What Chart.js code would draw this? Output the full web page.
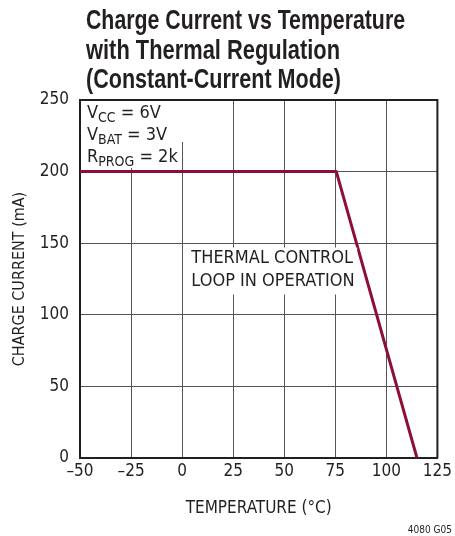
<!DOCTYPE html>
<html>
<head>
<meta charset="utf-8">
<script src="https://cdn.jsdelivr.net/npm/chart.js@4/dist/chart.umd.min.js"></script>
<style>
  html, body { margin: 0; padding: 0; background: #fff; }
  #wrap { width: 455px; height: 536px; position: relative; }
</style>
</head>
<body>
<div id="wrap"><canvas id="c" width="455" height="536"></canvas></div>
<script>
// ---- data ----
const temperatures = [-50, 75.5, 115];        // °C
const chargeCurrent = [200, 200, 0];          // mA
const xTicks = [-50, -25, 0, 25, 50, 75, 100, 125];
const yTicks = [0, 50, 100, 150, 200, 250];
const titleLines = ['Charge Current vs Temperature', 'with Thermal Regulation', '(Constant-Current Mode)'];
const xTitle = 'TEMPERATURE (°C)';
const yTitle = 'CHARGE CURRENT (mA)';
const condLines = [['V', 'CC', ' = 6V'], ['V', 'BAT', ' = 3V'], ['R', 'PROG', ' = 2k']];
const noteLines = ['THERMAL CONTROL', 'LOOP IN OPERATION'];
const footnote = '4080 G05';

const FAM = "'DejaVu Sans Condensed', 'Liberation Sans', sans-serif";
const TFAM = "'Liberation Sans', Arial, sans-serif";
Chart.defaults.font.family = FAM;
Chart.defaults.color = '#231f20';

const textPlugin = {
  id: 'texts',
  afterDatasetsDraw(chart) {
    const ctx = chart.ctx;
    const xs = chart.scales.x, ys = chart.scales.y;
    ctx.save();
    // white backgrounds behind annotations
    ctx.fillStyle = '#fff';
    const L = chart.chartArea.left;
    ctx.fillRect(L + 1.5, chart.chartArea.top + 1, 104, 41);
    ctx.fillRect(L + 1.5, chart.chartArea.top + 42, 97, 26);
    const nx = xs.getPixelForValue(1.5);
    ctx.fillRect(nx, ys.getPixelForValue(147), 172, 47);
    // conditions text
    ctx.fillStyle = '#231f20';
    ctx.textBaseline = 'alphabetic';
    ctx.textAlign = 'left';
    const bases = [18, 40, 62];
    condLines.forEach((parts, i) => {
      let x = L + 7;
      const y = chart.chartArea.top + bases[i];
      ctx.font = '18px ' + FAM;
      ctx.fillText(parts[0], x, y);
      x += ctx.measureText(parts[0]).width;
      ctx.font = '14px ' + FAM;
      ctx.fillText(parts[1], x, y + 4);
      x += ctx.measureText(parts[1]).width;
      ctx.font = '18px ' + FAM;
      ctx.fillText(parts[2], x, y);
    });
    // note text
    ctx.font = '18px ' + FAM;
    const tx = xs.getPixelForValue(4.5);
    ctx.fillText(noteLines[0], tx, ys.getPixelForValue(136.5));
    ctx.fillText(noteLines[1], tx, ys.getPixelForValue(120));
    ctx.restore();
  },
  afterDraw(chart) {
    const ctx = chart.ctx;
    ctx.save();
    ctx.fillStyle = '#231f20';
    ctx.textAlign = 'left';
    ctx.textBaseline = 'alphabetic';
    ctx.font = 'bold 28px ' + TFAM;
    const tb = [29, 59, 88];
    const tw = [319, 254, 255];
    titleLines.forEach((t, i) => {
      const w = ctx.measureText(t).width;
      ctx.save();
      ctx.translate(86, tb[i]);
      ctx.scale(tw[i] / w, 1);
      ctx.fillText(t, 0, 0);
      ctx.restore();
    });
    ctx.font = '10px ' + FAM;
    ctx.textAlign = 'right';
    ctx.fillText(footnote, 452, 533);
    ctx.restore();
  }
};

const points = temperatures.map((t, i) => ({ x: t, y: chargeCurrent[i] }));

new Chart(document.getElementById('c'), {
  type: 'line',
  data: {
    datasets: [{
      data: points,
      borderColor: '#8c1034',
      borderWidth: 3,
      pointRadius: 0,
      tension: 0,
      fill: false,
      borderJoinStyle: 'round'
    }]
  },
  options: {
    responsive: false,
    animation: false,
    events: [],
    layout: { padding: { left: 0, top: 100, right: 13, bottom: 0 } },
    plugins: { legend: { display: false }, tooltip: { enabled: false }, title: { display: false } },
    scales: {
      x: {
        type: 'linear',
        min: xTicks[0], max: xTicks[xTicks.length - 1],
        afterBuildTicks(s) { s.ticks = xTicks.map(v => ({ value: v })); },
        afterFit(s) { s.height = 78; },
        ticks: {
          font: { size: 17 }, color: '#231f20', padding: 3,
          callback: v => String(v).replace('-', '\u2013')
        },
        grid: { color: '#555', lineWidth: 1, drawTicks: false },
        border: { color: '#231f20', width: 2 },
        title: { display: true, text: xTitle, font: { size: 17 }, color: '#231f20', padding: { top: 0, bottom: 17 } }
      },
      y: {
        type: 'linear',
        min: yTicks[0], max: yTicks[yTicks.length - 1],
        afterBuildTicks(s) { s.ticks = yTicks.map(v => ({ value: v })); },
        afterFit(s) { s.width = 80; },
        ticks: { font: { size: 17 }, color: '#231f20', padding: 11 },
        grid: { color: '#555', lineWidth: 1, drawTicks: false },
        border: { color: '#231f20', width: 2 },
        title: { display: true, text: yTitle, font: { size: 16 }, color: '#231f20', padding: { top: 10, bottom: 0 } }
      }
    }
  },
  plugins: [textPlugin, {
    id: 'frame',
    afterDraw(chart) {
      const { left, right, top, bottom } = chart.chartArea;
      const ctx = chart.ctx;
      ctx.save();
      ctx.strokeStyle = '#231f20';
      ctx.lineWidth = 2;
      ctx.beginPath();
      ctx.moveTo(left, top); ctx.lineTo(right, top); ctx.lineTo(right, bottom);
      ctx.stroke();
      ctx.restore();
    }
  }]
});
</script>
</body>
</html>
